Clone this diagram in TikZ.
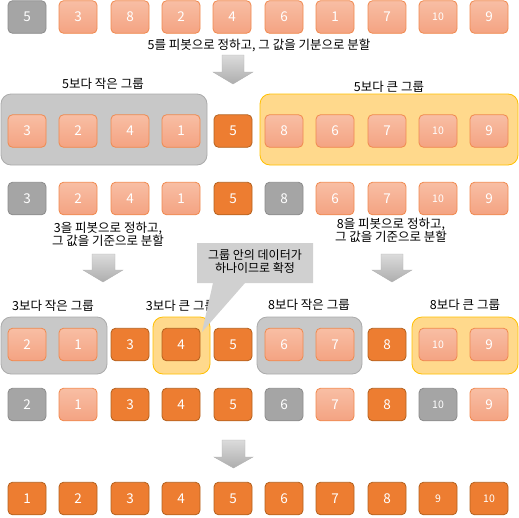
\documentclass[tikz,border=0pt]{standalone}
\usepackage{fontspec}
\setmainfont{Noto Sans CJK KR}
\definecolor{cg}{HTML}{A5A5A5}
\definecolor{cgb}{HTML}{8C8C8C}
\definecolor{clt}{HTML}{F8BEA4}
\definecolor{clb}{HTML}{F4A382}
\definecolor{clbd}{HTML}{F0894E}
\definecolor{cd}{HTML}{ED7D31}
\definecolor{cdb}{HTML}{B4621F}
\definecolor{ggf}{HTML}{C8C8C8}
\definecolor{ggb}{HTML}{ABABAB}
\definecolor{ygf}{HTML}{FFD98C}
\definecolor{ygb}{HTML}{FFC000}
\definecolor{callc}{HTML}{D0D0D0}
\tikzset{
  cell/.style={rounded corners=4.5pt, minimum width=38pt, minimum height=32.5pt, inner sep=0pt, text=white, font=\fontsize{13.5}{13.5}\selectfont, line width=0.8pt},
  gcell/.style={cell, fill=cg, draw=cgb},
  lcell/.style={cell, top color=clt, bottom color=clb, draw=clbd},
  dcell/.style={cell, fill=cd, draw=cdb},
  ten/.style={font=\fontsize{10.5}{10.5}\selectfont},
  ggroup/.style={rounded corners=10pt, fill=ggf, draw=ggb, line width=0.8pt, inner sep=0pt},
  ygroup/.style={rounded corners=10pt, fill=ygf, draw=ygb, line width=0.8pt, inner sep=0pt},
  lbl/.style={font=\fontsize{12.5}{13.5}\selectfont, inner sep=0pt, align=center},
  blockarrow/.style={top color=black!14, bottom color=black!32, draw=black!30, line width=0.4pt},
}
\newcommand{\Cell}[5]{\node[#4] (#1) at (#2,#3) {#5};}
\begin{document}
\begin{tikzpicture}[x=1pt,y=-1pt]
\useasboundingbox (0,0) rectangle (519,517);
% ---------- row 1
\Cell{a1}{27}{17}{gcell}{5}
\Cell{a2}{78}{17}{lcell}{3}
\Cell{a3}{130}{17}{lcell}{8}
\Cell{a4}{181}{17}{lcell}{2}
\Cell{a5}{232}{17}{lcell}{4}
\Cell{a6}{284}{17}{lcell}{6}
\Cell{a7}{335}{17}{lcell}{1}
\Cell{a8}{387}{17}{lcell}{7}
\Cell{a9}{438}{17}{lcell,ten}{10}
\Cell{a10}{489}{17}{lcell}{9}
\node[lbl] (t1) at (259,45) {5를 피봇으로 정하고, 그 값을 기분으로 분할};
\draw[blockarrow] (222,55) -- (244,55) -- (244,72) -- (253,72) -- (233,84) -- (213,72) -- (222,72) -- cycle;
% ---------- row 2
\node[lbl] (l2a) at (103,84) {5보다 작은 그룹};
\node[lbl] (l2b) at (389,87) {5보다 큰 그룹};
\node[ggroup, minimum width=206pt, minimum height=71pt] (g2a) at (104,129.5) {};
\node[ygroup, minimum width=258pt, minimum height=71pt] (g2b) at (389,129.5) {};
\Cell{b1}{27}{131}{lcell}{3}
\Cell{b2}{78}{131}{lcell}{2}
\Cell{b3}{130}{131}{lcell}{4}
\Cell{b4}{181}{131}{lcell}{1}
\Cell{b5}{233}{131}{dcell}{5}
\Cell{b6}{284}{131}{lcell}{8}
\Cell{b7}{335}{131}{lcell}{6}
\Cell{b8}{387}{131}{lcell}{7}
\Cell{b9}{438}{131}{lcell,ten}{10}
\Cell{b10}{489}{131}{lcell}{9}
% ---------- row 3
\Cell{c1}{27}{198.5}{gcell}{3}
\Cell{c2}{78}{198.5}{lcell}{2}
\Cell{c3}{130}{198.5}{lcell}{4}
\Cell{c4}{181}{198.5}{lcell}{1}
\Cell{c5}{233}{198.5}{dcell}{5}
\Cell{c6}{284}{198.5}{gcell}{8}
\Cell{c7}{335}{198.5}{lcell}{6}
\Cell{c8}{387}{198.5}{lcell}{7}
\Cell{c9}{438}{198.5}{lcell,ten}{10}
\Cell{c10}{489}{198.5}{lcell}{9}
\node[lbl] (t3a) at (108,234.5) {3을 피봇으로 정하고,\\그 값을 기준으로 분할};
\node[lbl] (t3b) at (391,230.5) {8을 피봇으로 정하고,\\그 값을 기준으로 분할};
\draw[blockarrow] (92,254) -- (115,254) -- (115,270) -- (123,270) -- (103,282) -- (83,270) -- (92,270) -- cycle;
\draw[blockarrow] (381,254) -- (403,254) -- (403,270) -- (412,270) -- (392,282) -- (372,270) -- (381,270) -- cycle;
% ---------- row 4
\node[lbl] (l4a) at (53,306) {3보다 작은 그룹};
\node[lbl] (l4b) at (181,306) {3보다 큰 그룹};
\node[lbl] (l4c) at (309,305) {8보다 작은 그룹};
\node[lbl] (l4d) at (465,305) {8보다 큰 그룹};
\node[ggroup, minimum width=106pt, minimum height=57pt] (g4a) at (54,345.5) {};
\node[ygroup, minimum width=57pt, minimum height=57pt] (g4b) at (181.5,345.5) {};
\node[ggroup, minimum width=105pt, minimum height=57pt] (g4c) at (309.5,345.5) {};
\node[ygroup, minimum width=106pt, minimum height=57pt] (g4d) at (465,345.5) {};
\Cell{d1}{27}{344.5}{lcell}{2}
\Cell{d2}{78}{344.5}{lcell}{1}
\Cell{d3}{130}{344.5}{dcell}{3}
\Cell{d4}{181}{344.5}{dcell}{4}
\Cell{d5}{233}{344.5}{dcell}{5}
\Cell{d6}{284}{344.5}{lcell}{6}
\Cell{d7}{335}{344.5}{lcell}{7}
\Cell{d8}{387}{344.5}{dcell}{8}
\Cell{d9}{438}{344.5}{lcell,ten}{10}
\Cell{d10}{489}{344.5}{lcell}{9}
% callout
\fill[callc] (197,243) rectangle (313,283) (213,283) -- (202,332) -- (245,283) -- cycle;
\node[lbl, font=\fontsize{12}{13}\selectfont] (call) at (255,261.5) {그룹 안의 데이터가\\하나이므로 확정};
% ---------- row 5
\Cell{e1}{27}{404.5}{gcell}{2}
\Cell{e2}{78}{404.5}{lcell}{1}
\Cell{e3}{130}{404.5}{dcell}{3}
\Cell{e4}{181}{404.5}{dcell}{4}
\Cell{e5}{233}{404.5}{dcell}{5}
\Cell{e6}{284}{404.5}{gcell}{6}
\Cell{e7}{335}{404.5}{lcell}{7}
\Cell{e8}{387}{404.5}{dcell}{8}
\Cell{e9}{438}{404.5}{gcell,ten}{10}
\Cell{e10}{489}{404.5}{lcell}{9}
\draw[blockarrow] (222,440) -- (245,440) -- (245,457) -- (253,457) -- (233.5,468) -- (214,457) -- (222,457) -- cycle;
% ---------- row 6
\Cell{f1}{27}{498.5}{dcell}{1}
\Cell{f2}{78}{498.5}{dcell}{2}
\Cell{f3}{130}{498.5}{dcell}{3}
\Cell{f4}{181}{498.5}{dcell}{4}
\Cell{f5}{233}{498.5}{dcell}{5}
\Cell{f6}{284}{498.5}{dcell}{6}
\Cell{f7}{335}{498.5}{dcell}{7}
\Cell{f8}{387}{498.5}{dcell}{8}
\Cell{f9}{438}{498.5}{dcell,ten}{9}
\Cell{f10}{489}{498.5}{dcell,ten}{10}
\end{tikzpicture}
\end{document}
